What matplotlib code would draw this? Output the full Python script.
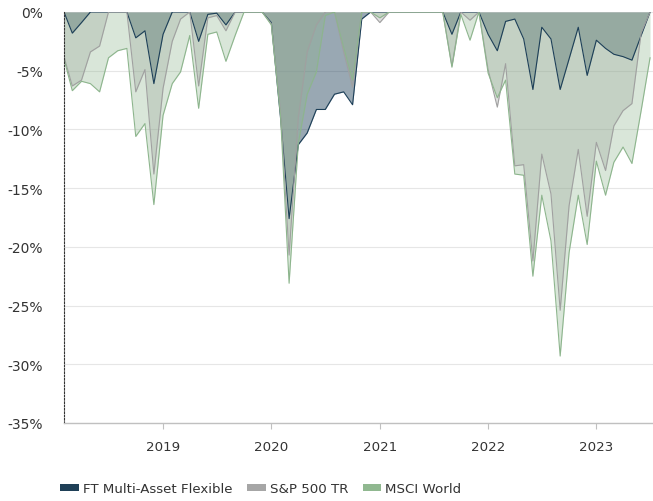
import pandas as pd
import matplotlib.pyplot as plt
from matplotlib.patches import Patch
from matplotlib.ticker import FuncFormatter

# monthly drawdowns in %, Feb 2018 .. Jul 2023
dates = pd.date_range('2018-02-01', '2023-07-01', freq='MS')

ft = [0, -1.8, -0.9, 0, 0, 0, 0, 0, -2.2, -1.6, -6.1, -1.9,
      0, 0, 0, -2.5, -0.2, -0.1, -1.1, 0, 0, 0, 0,
      -0.9, -9.0, -17.6, -11.3, -10.3, -8.3, -8.3, -7.0, -6.8, -7.9, -0.6, 0,
      0, 0, 0, 0, 0, 0, 0, 0, -1.9, 0, 0, 0,
      -1.9, -3.3, -0.8, -0.6, -2.3, -6.6, -1.3, -2.3, -6.6, -4.0, -1.3, -5.4,
      -2.4, -3.1, -3.6, -3.8, -4.1, -2.0, 0]

sp500 = [-3.8, -6.3, -5.8, -3.4, -2.9, 0, 0, 0, -6.8, -4.9, -13.8, -6.5,
         -2.5, -0.6, 0, -6.3, -0.5, -0.3, -1.6, 0, 0, 0, 0,
         -1.0, -8.4, -20.7, -9.0, -3.4, -1.1, 0, 0, -3.4, -6.4, 0, 0,
         -0.9, 0, 0, 0, 0, 0, 0, 0, -4.6, 0, -0.7, 0,
         -4.9, -8.1, -4.4, -13.1, -13.0, -21.2, -12.1, -15.5, -25.4, -16.5, -11.7, -17.4,
         -11.1, -13.5, -9.7, -8.4, -7.8, -1.8, 0]

msci = [-4.0, -6.7, -5.9, -6.1, -6.8, -3.9, -3.3, -3.1, -10.6, -9.5, -16.4, -8.8,
        -6.1, -5.1, -2.0, -8.2, -1.9, -1.7, -4.2, -2.0, 0, 0, 0,
        -1.1, -8.8, -23.1, -11.2, -7.0, -5.1, -0.3, 0, -3.0, -5.8, 0, 0,
        -0.5, 0, 0, 0, 0, 0, 0, 0, -4.7, -0.2, -2.4, 0,
        -5.2, -7.3, -5.8, -13.8, -13.9, -22.5, -15.6, -19.5, -29.3, -20.5, -15.6, -19.8,
        -12.7, -15.6, -12.8, -11.5, -12.9, -8.4, -3.9]

names = ['FT Multi-Asset Flexible', 'S&P 500 TR', 'MSCI World']
colors = ['#1d3f58', '#a0a0a0', '#8db58d']
fill_alpha = [0.45, 0.33, 0.33]
yticks = [0, -5, -10, -15, -20, -25, -30, -35]
years = ['2019', '2020', '2021', '2022', '2023']

plt.rcParams['font.family'] = 'DejaVu Sans'
fig = plt.figure(figsize=(6.53, 5.02), dpi=100)
ax = fig.add_axes([64 / 653, 78 / 502, 589 / 653, 411 / 502])

for vals, c, a in zip([ft, sp500, msci], colors, fill_alpha):
    ax.fill_between(dates, 0, vals, color=c, alpha=a, linewidth=0)
    ax.plot(dates, vals, color=c, lw=0.8)

ax.set_ylim(-35, 0)
ax.set_xlim(dates[0], dates[-1] + pd.Timedelta(days=10))
ax.set_yticks(yticks)
ax.yaxis.set_major_formatter(FuncFormatter(lambda v, p: '%d%%' % v))
ax.set_xticks(pd.to_datetime([y + '-01-01' for y in years]))
ax.set_xticklabels(years)
ax.grid(axis='y', color='#e6e6e6', lw=0.8)
ax.set_axisbelow(True)

for s in ['top', 'right']:
    ax.spines[s].set_visible(False)
ax.spines['left'].set_linestyle((0, (1.5, 1.5)))
ax.spines['left'].set_color('#333333')
ax.spines['left'].set_linewidth(0.8)
ax.spines['bottom'].set_color('#c0c0c0')
ax.spines['bottom'].set_linewidth(1)
ax.tick_params(axis='y', length=0, pad=15, labelsize=10, labelcolor='#333333')
ax.tick_params(axis='x', length=4.5, color='#c0c0c0', pad=8, labelsize=9.6, labelcolor='#333333')

handles = [Patch(facecolor=c, edgecolor='none') for c in ['#1f4057', '#a6a6a6', '#90b890']]
fig.legend(handles, names, loc='center left', bbox_to_anchor=(60 / 653, 1 - 490 / 502),
           ncol=3, frameon=False, fontsize=9.6, handlelength=1.4, handleheight=0.45,
           handletextpad=0.3, columnspacing=1.1, borderpad=0, borderaxespad=0,
           labelcolor='#333333')

fig.savefig('out.png', dpi=100)
